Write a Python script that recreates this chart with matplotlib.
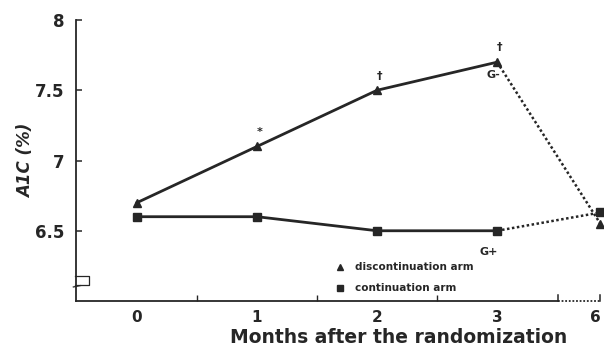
"""A1C over months after randomization: discontinuation vs continuation arm."""

import matplotlib

matplotlib.use("Agg")

import matplotlib.pyplot as plt  # noqa: E402
import matplotlib.transforms as mtransforms  # noqa: E402

months = ["0", "1", "2", "3", "6"]
discontinuation = [6.70, 7.10, 7.50, 7.70, 6.55]
continuation = [6.60, 6.60, 6.50, 6.50, 6.63]
marks = ["*", "\u2020", "\u2020"]  # above months 1, 2, 3 of discontinuation arm
y_ticks = [6.5, 7, 7.5, 8]

# x layout: months 0..3 evenly spaced, month 6 after a broken axis
x_pos = [0, 1, 2, 3, 3.86]
break_x = 3.51

if __name__ == "__main__":
    plt.rcParams["font.family"] = ["DejaVu Sans"]
    ink = "#262626"

    fig = plt.figure(figsize=(6.04, 3.49), dpi=100)
    ax = fig.add_axes([0.1258, 0.1375, 0.8722, 0.8052])
    ax.set_xlim(-0.508, 3.88)
    ax.set_ylim(6.0, 8.0)

    for s in ["top", "right", "bottom"]:
        ax.spines[s].set_visible(False)
    ax.spines["left"].set_color(ink)
    ax.spines["left"].set_linewidth(1.3)

    # solid segment 0-3, dotted segment 3-6
    for vals, mk, ms in [(discontinuation, "^", 6), (continuation, "s", 6)]:
        ax.plot(x_pos[:4], vals[:4], color=ink, lw=2, marker=mk, ms=ms,
                clip_on=False, zorder=3)
        ax.plot(x_pos[3:], vals[3:], color=ink, lw=1.8, ls=(0, (1, 1)),
                marker=mk, ms=ms, markevery=[1], clip_on=False, zorder=3)

    for i, m in enumerate(marks):
        ax.annotate(m, (x_pos[i + 1], discontinuation[i + 1]),
                    xytext=(2, 7), textcoords="offset points",
                    ha="center", va="bottom", fontsize=8, fontweight="bold",
                    color=ink)
    ax.annotate("G-", (x_pos[3], discontinuation[3]), xytext=(-3, -6),
                textcoords="offset points", ha="center", va="top",
                fontsize=8, fontweight="bold", color=ink)
    ax.annotate("G+", (x_pos[3], continuation[3]), xytext=(-6, -12),
                textcoords="offset points", ha="center", va="top",
                fontsize=8, fontweight="bold", color=ink)

    # legend
    ax.plot([1.69], [6.24], marker="^", ms=5, color=ink, ls="none")
    ax.plot([1.69], [6.09], marker="s", ms=4.5, color=ink, ls="none")
    ax.text(1.82, 6.24, "discontinuation arm", va="center", fontsize=7.5,
            fontweight="bold", color=ink)
    ax.text(1.82, 6.09, "continuation arm", va="center", fontsize=7.5,
            fontweight="bold", color=ink)

    # broken x axis
    trans = mtransforms.blended_transform_factory(ax.transData, ax.transAxes)
    ax.plot([-0.508, break_x], [0, 0], color=ink, lw=1.3, transform=trans,
            clip_on=False)
    ax.plot([break_x, 3.86], [0, 0], color=ink, lw=1.3, ls=(0, (1, 1)),
            transform=trans, clip_on=False)
    for bx in [break_x, 3.86]:
        ax.plot([bx, bx], [0, 0.02], color=ink, lw=1.1, transform=trans,
                clip_on=False)

    ax.set_xticks(x_pos)
    ax.set_xticklabels(months)
    ax.set_xticks([0.5, 1.5, 2.5], minor=True)
    ax.tick_params(axis="x", which="major", length=0, pad=6.5, labelsize=11,
                   colors=ink)
    ax.tick_params(axis="x", which="minor", direction="in", length=4,
                   width=1, colors=ink)
    for lab in ax.get_xticklabels():
        lab.set_fontweight("bold")
    ax.get_xticklabels()[-1].set_horizontalalignment("right")

    ax.set_yticks(y_ticks)
    ax.set_yticklabels(["6.5", "7", "7.5", "8"])
    ax.tick_params(axis="y", direction="in", length=4, width=1.1,
                   labelsize=12, colors=ink, pad=8)
    for lab in ax.get_yticklabels():
        lab.set_fontweight("bold")

    # y axis break symbol
    ax.plot([-0.52, -0.40, -0.40, -0.52], [6.18, 6.18, 6.115, 6.115],
            color=ink, lw=0.9, clip_on=False)
    ax.plot([-0.53, -0.47], [6.10, 6.11], color=ink, lw=0.9, clip_on=False)

    ax.set_ylabel("A1C (%)", fontsize=12, fontweight="bold",
                  fontstyle="italic", color=ink, labelpad=0)
    ax.text(2.18, -0.149, "Months after the randomization", transform=trans,
            ha="center", va="baseline", fontsize=13.5, fontweight="bold",
            color=ink)

    fig.savefig("out.png", dpi=100)
